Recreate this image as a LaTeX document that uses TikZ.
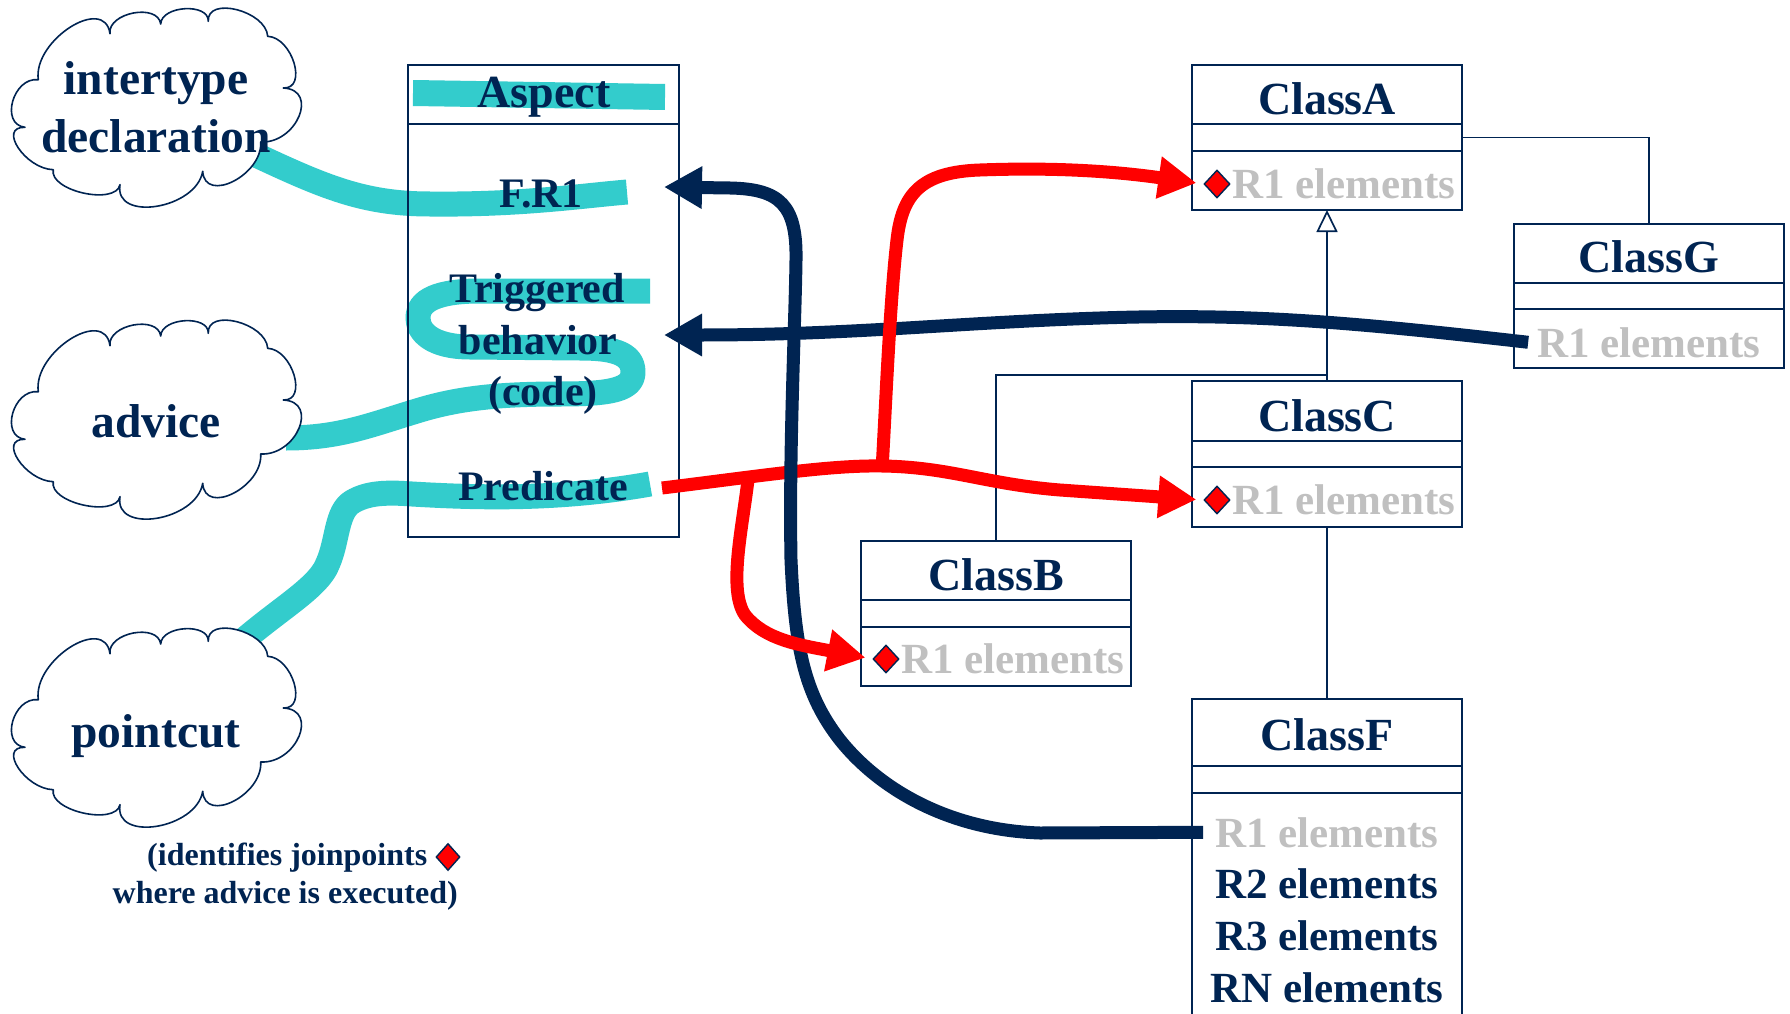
\documentclass[tikz,border=0pt]{standalone}
\usepackage{fontspec}
\setmainfont{Liberation Serif}
\usetikzlibrary{shapes.geometric,arrows.meta,calc}
\pgfdeclarelayer{under}
\pgfsetlayers{under,main}
\definecolor{navy}{RGB}{0,36,82}
\definecolor{aqua}{RGB}{51,204,204}
\definecolor{hot}{RGB}{255,0,0}
\definecolor{pale}{RGB}{192,192,192}
\newcommand\bsz[1]{\fontsize{#1}{#1}\selectfont\bfseries}

% eleven-puff cloud outline, drawn around the origin
\tikzset{pics/puffcloud/.style={code={
  \draw[draw=navy, line width=1.6pt, fill=white, line join=round]
    (-117.7,-28.3) .. controls (-143,-31.2) and (-156.3,16.4) .. (-131,19.3)
    .. controls (-158.8,18.6) and (-130.5,61) .. (-102.7,61.7)
    .. controls (-107.2,82.8) and (-40.5,97.8) .. (-36,76.7)
    .. controls (-42.2,114.4) and (40.5,101) .. (46.7,63.3)
    .. controls (48.8,96.2) and (106.8,66.9) .. (104.7,34)
    .. controls (140.7,35.7) and (163.3,-18.3) .. (127.3,-20)
    .. controls (152,-18.9) and (136.4,-70.6) .. (111.7,-71.7)
    .. controls (110,-97.2) and (50.6,-112.2) .. (52.3,-86.7)
    .. controls (53,-105.3) and (5.4,-102.6) .. (4.7,-84)
    .. controls (2,-105.1) and (-48.7,-95.4) .. (-46,-74.3)
    .. controls (-51.5,-113.5) and (-123.2,-67.5) .. (-117.7,-28.3) -- cycle;
}}}

\begin{document}
\begin{tikzpicture}[x=1pt, y=-1pt,
  comp/.style={draw=navy, line width=1.6pt, minimum width=270pt, inner sep=0pt, outer sep=0pt},
  abox/.style={draw=navy, line width=1.6pt, minimum width=271pt, inner sep=0pt, outer sep=0pt},
  cloudbox/.style={rectangle, minimum width=288pt, minimum height=198pt, inner sep=0pt},
  ttl/.style={inner sep=0pt, anchor=base, text=navy, font=\bsz{46}},
  itm/.style={inner sep=0pt, anchor=base, text=navy, font=\bsz{42}},
  elem/.style={inner sep=0pt, anchor=base, text=pale, font=\bsz{43}},
  elemdark/.style={elem, text=navy},
  cldtxt/.style={inner sep=0pt, anchor=base, text=navy, font=\bsz{47.5}},
  note/.style={inner sep=0pt, anchor=base, text=navy, font=\bsz{32}},
  jp/.style={diamond, draw=navy, fill=hot, line width=1.4pt, minimum width=26pt, minimum height=28pt, inner sep=0pt},
  assoc/.style={draw=navy, line width=1.7pt},
  hl/.style={draw=aqua, line width=25pt, line join=round},
  flowN/.style={draw=navy, line width=13pt, line join=round, -{Triangle[length=38pt,width=40pt]}},
  flowR/.style={draw=hot, line width=13pt, line join=round, -{Triangle[length=38pt,width=40pt]}},
]
\useasboundingbox (0,0) rectangle (1790,1014);
\clip (0,0) rectangle (1790,1014);

% free ends of the strokes
\coordinate (hlA1) at (413,93);
\coordinate (hlA2) at (665,97);
\coordinate (hlF) at (627,192);
\coordinate (hlT) at (650,291);
\coordinate (hlP) at (650,484);
\coordinate (frIn) at (664,187);
\coordinate (trIn) at (664,335);
\coordinate (predOut) at (662,488);
\coordinate (fork) at (882,466);
\coordinate (forkB) at (748,480);
\coordinate (gen) at (1327,375);

% concept clouds
\node[cloudbox] (cl1) at (156,108) {};
\node[cloudbox] (cl2) at (156,420) {};
\node[cloudbox] (cl3) at (156,728) {};
\pic at (cl1.center) {puffcloud};
\pic at (cl2.center) {puffcloud};
\pic at (cl3.center) {puffcloud};
\node[cldtxt] (t-inter) at (156,95) {intertype};
\node[cldtxt] (t-decl) at (156,152) {declaration};
\node[cldtxt] (t-adv) at (156,437) {advice};
\node[cldtxt] (t-pc) at (156,747) {pointcut};

% caption under the pointcut cloud
\node[note, anchor=base west] (cap1) at (147,865) {(identifies joinpoints};
\node[jp, minimum width=24pt, minimum height=27pt] (capd) at (448,857) {};
\node[note, anchor=base east] (cap2) at (458,903) {where advice is executed)};

% aspect box
\node[abox, minimum height=59pt] (asH) at (543.5,94.5) {};
\node[abox, minimum height=413pt] (asB) at (543.5,330.5) {};
\node[ttl] (t-asp) at (544,108) {Aspect};
\node[itm] (t-fr1) at (541,207) {F.R1};
\node[itm] (t-trig) at (537,302) {Triggered};
\node[itm] (t-beh) at (538,354) {behavior};
\node[itm] (t-code) at (543,405) {(code)};
\node[itm] (t-pred) at (543,500) {Predicate};

% ClassA
\node[comp, minimum height=59pt] (A1) at (1327,94.5) {};
\node[comp, minimum height=27pt] (A2) at (1327,137.5) {};
\node[comp, minimum height=59pt] (A3) at (1327,180.5) {};
\node[ttl] (A-t) at (1327,114) {ClassA};
\node[jp] (A-d) at (1217,184) {};
\node[elem, anchor=base west] (A-r1) at (1232,198) {R1 elements};

% ClassG
\node[comp, minimum height=59pt] (G1) at (1649,253.5) {};
\node[comp, minimum height=26pt] (G2) at (1649,296) {};
\node[comp, minimum height=59pt] (G3) at (1649,338.5) {};
\node[ttl] (G-t) at (1649,272) {ClassG};
\node[elem] (G-r1) at (1649,357) {R1 elements};

% ClassC
\node[comp, minimum height=60pt] (C1) at (1327,411) {};
\node[comp, minimum height=26pt] (C2) at (1327,454) {};
\node[comp, minimum height=60pt] (C3) at (1327,497) {};
\node[ttl] (C-t) at (1327,431) {ClassC};
\node[jp] (C-d) at (1217,500) {};
\node[elem, anchor=base west] (C-r1) at (1232,514) {R1 elements};

% ClassB
\node[comp, minimum height=59pt] (B1) at (996,570.5) {};
\node[comp, minimum height=27pt] (B2) at (996,613.5) {};
\node[comp, minimum height=59pt] (B3) at (996,656.5) {};
\node[ttl] (B-t) at (996,590) {ClassB};
\node[jp] (B-d) at (886,659) {};
\node[elem, anchor=base west] (B-r1) at (901,673) {R1 elements};

% ClassF (runs past the lower edge)
\node[comp, minimum height=67pt] (F1) at (1327,732.5) {};
\node[comp, minimum height=27pt] (F2) at (1327,779.5) {};
\node[comp, minimum height=240pt] (F3) at (1327,913) {};
\node[ttl] (F-t) at (1327,750) {ClassF};
\node[elem] (F-r1) at (1327,847) {R1 elements};
\node[elemdark] (F-r2) at (1327,898) {R2 elements};
\node[elemdark] (F-r3) at (1327,950) {R3 elements};
\node[elemdark] (F-rn) at (1327,1002) {RN elements};

% class relations
\draw[assoc] (A2.east) -| (G1.north);
\draw[assoc, -{Triangle[open, length=22pt, width=21pt]}] (C1.north) -- (A3.south);
\draw[assoc] (B1.north) |- (gen);
\draw[assoc] (C3.south) -- (F1.north);

% white ground and highlight strokes behind the texts
\begin{pgfonlayer}{under}
\fill[white] (0,0) rectangle (1790,1014);
\draw[hl, line width=26pt] (hlA1) -- (hlA2);
\draw[hl] ($(cl1.center)+(85,40)$) .. controls (320,185) and (360,204) .. (430,204)
      .. controls (520,205) and (580,196) .. (hlF);
\draw[hl] ($(cl2.center)+(130,18)$) .. controls (340,438) and (370,425) .. (420,410)
      .. controls (460,398) and (500,394) .. (560,394)
      .. controls (610,394) and (633,390) .. (633,372)
      .. controls (633,352) and (610,348) .. (580,348) -- (470,347)
      .. controls (432,347) and (418,332) .. (418,318)
      .. controls (418,300) and (438,291) .. (480,291) -- (hlT);
\draw[hl] ($(cl3.center)+(70,-72)$) .. controls (272,612) and (318,590) .. (328,563)
      .. controls (338,540) and (336,512) .. (352,502)
      .. controls (367,493) and (385,492) .. (412,494)
      .. controls (480,498) and (560,500) .. (hlP);
\end{pgfonlayer}

% joinpoint flows
\draw[flowR, shorten >=7pt] (predOut) .. controls (760,476) and (830,465) .. (fork)
      .. controls (950,467) and (985,484) .. (1060,490) -- (C-d.west);
\draw[flowN] ([xshift=-12pt]F-r1.west) -- (1040,833)
      .. controls (950,830) and (880,790) .. (840,740)
      .. controls (805,695) and (795,650) .. (791,560)
      .. controls (789,450) and (795,330) .. (796,260)
      .. controls (797,205) and (780,189) .. (730,188) -- (frIn);
\draw[flowN] ([xshift=-9pt]G-r1.west) .. controls (1350,322) and (1250,313) .. (1100,318)
      .. controls (950,323) and (850,335) .. (700,335) -- (trIn);
\draw[flowR, shorten >=7pt] ([yshift=-4pt]fork) .. controls (886,400) and (890,300) .. (897,240)
      .. controls (902,195) and (920,172) .. (980,170)
      .. controls (1060,167) and (1120,172) .. (A-d.west);
\draw[flowR, shorten >=7pt] (forkB) .. controls (742,530) and (728,590) .. (745,615)
      .. controls (765,640) and (800,645) .. (B-d.west);
\end{tikzpicture}
\end{document}
